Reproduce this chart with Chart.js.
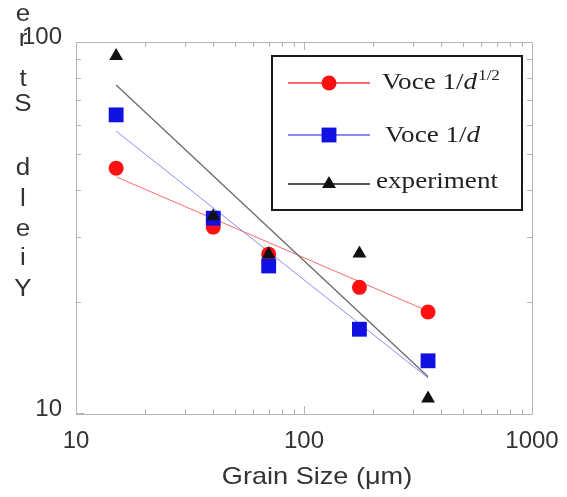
<!DOCTYPE html>
<html>
<head>
<meta charset="utf-8">
<script src="https://cdn.jsdelivr.net/npm/chart.js@4.4.1/dist/chart.umd.min.js"></script>
<style>
html,body{margin:0;padding:0;background:#fff;}
#wrap{width:567px;height:497px;position:relative;}
</style>
</head>
<body>
<div id="wrap"><canvas id="c" width="567" height="497"></canvas></div>
<script>
// ---- data ----
const grainSize = [15, 40, 70, 175, 350];
const voceSqrt = [45.8, 31.8, 26.9, 21.9, 18.8];
const voceInv = [63.7, 33.6, 25.0, 16.9, 13.9];
const experiment = [91.7, 34.0, 26.9, 27.0, 11.0];
const fitX = [15, 350];
const fitSqrt = [43.4, 18.9];
const fitInv = [57.6, 12.5];
const fitExp = [76.6, 12.6];
const xTickLabels = [10, 100, 1000];
const yTickLabels = [10, 100];
const xTitle = 'Grain Size (\u03bcm)';
const yTitleLetters = ['Y','i','e','l','d','S','t','r','e'];
const seriesNames = ['Voce 1/d^1/2', 'Voce 1/d', 'experiment'];

const pts = (xs, ys) => xs.map((x, i) => ({x: x, y: ys[i]}));

const RED = '#ff1010', BLUE = '#1010e0', BLACK = '#111111';
const SANS = '"Liberation Sans", Arial, sans-serif';
const SERIF = '"Liberation Serif", "Times New Roman", serif';
const STRETCH = 1.13;

const datasets = [
  {label: seriesNames[0], data: pts(grainSize, voceSqrt), pointStyle: 'circle', pointRadius: 7.5,
   backgroundColor: RED, borderColor: RED, borderWidth: 0, showLine: false, order: 2},
  {label: seriesNames[1], data: pts(grainSize, voceInv), pointStyle: 'rect', pointRadius: 10.5,
   backgroundColor: BLUE, borderColor: BLUE, borderWidth: 0, showLine: false, order: 1},
  {label: seriesNames[2], data: pts(grainSize, experiment), pointStyle: 'triangle', pointRadius: 8,
   backgroundColor: BLACK, borderColor: BLACK, borderWidth: 0, showLine: false, order: 0},
  {label: 'fitSqrt', data: pts(fitX, fitSqrt), showLine: true, pointRadius: 0, borderColor: '#ff6a6a', borderWidth: 1, order: 5},
  {label: 'fitInv', data: pts(fitX, fitInv), showLine: true, pointRadius: 0, borderColor: '#8c8cff', borderWidth: 1, order: 4},
  {label: 'fitExp', data: pts(fitX, fitExp), showLine: true, pointRadius: 0, borderColor: '#6e6e6e', borderWidth: 1.4, order: 3}
];

const decadeMinors = (lo, hi) => {
  const out = [];
  for (let d = lo; d < hi; d *= 10) for (let k = 2; k <= 9; k++) out.push(d * k);
  return out;
};

function stretchText(ctx, t, x, y, align) {
  const w = ctx.measureText(t).width * STRETCH;
  let x0 = x;
  if (align === 'center') x0 = x - w / 2;
  ctx.save();
  ctx.translate(x0, y);
  ctx.scale(STRETCH, 1);
  ctx.textAlign = 'left';
  ctx.fillText(t, 0, 0);
  ctx.restore();
  return w;
}

const framePlugin = {
  id: 'frame',
  afterDraw(chart) {
    const ctx = chart.ctx, a = chart.chartArea;
    const xs = chart.scales.x, ys = chart.scales.y;
    ctx.save();
    ctx.strokeStyle = '#b4b4b4';
    ctx.lineWidth = 1;
    ctx.beginPath();
    ctx.rect(Math.round(a.left) + 0.5, Math.round(a.top) + 0.5, Math.round(a.right - a.left), Math.round(a.bottom - a.top));
    ctx.stroke();
    // inward ticks
    ctx.beginPath();
    decadeMinors(10, 1000).forEach(v => {
      const px = Math.round(xs.getPixelForValue(v)) + 0.5;
      ctx.moveTo(px, a.bottom); ctx.lineTo(px, a.bottom - 5);
      ctx.moveTo(px, a.top); ctx.lineTo(px, a.top + 5);
    });
    decadeMinors(10, 100).forEach(v => {
      const py = Math.round(ys.getPixelForValue(v)) + 0.5;
      ctx.moveTo(a.left, py); ctx.lineTo(a.left + 5, py);
      ctx.moveTo(a.right, py); ctx.lineTo(a.right - 5, py);
    });
    [100].forEach(v => {
      const px = Math.round(xs.getPixelForValue(v)) + 0.5;
      ctx.moveTo(px, a.bottom); ctx.lineTo(px, a.bottom - 8);
      ctx.moveTo(px, a.top); ctx.lineTo(px, a.top + 8);
    });
    ctx.moveTo(a.left, a.bottom - 0.5); ctx.lineTo(a.left + 8, a.bottom - 0.5);
    ctx.stroke();

    // axis titles
    ctx.fillStyle = '#333';
    ctx.font = '24px ' + SANS;
    ctx.textBaseline = 'middle';
    stretchText(ctx, xTitle, 317, 477, 'center');
    ctx.font = '23px ' + SANS;
    const letterY = [290, 259, 230, 200, 169, 105, 80, 40, 15];
    yTitleLetters.forEach((ch, i) => stretchText(ctx, ch, 23, letterY[i], 'center'));

    // legend box
    ctx.strokeStyle = '#1a1a1a';
    ctx.lineWidth = 2;
    ctx.strokeRect(272, 56, 250, 154);
    const rowsY = [83, 135, 184];
    const lineCols = ['#ff6a6a', '#8c8cff', '#555555'];
    rowsY.forEach((y, i) => {
      const ds = chart.data.datasets[i];
      ctx.strokeStyle = lineCols[i];
      ctx.lineWidth = 2;
      ctx.beginPath(); ctx.moveTo(288, y); ctx.lineTo(370, y); ctx.stroke();
      ctx.fillStyle = ds.backgroundColor;
      ctx.strokeStyle = ds.backgroundColor;
      Chart.helpers.drawPoint(ctx, {pointStyle: ds.pointStyle, radius: ds.pointRadius, rotation: 0, borderWidth: 0}, 329, y);
    });
    ctx.fillStyle = '#222';
    ctx.textBaseline = 'middle';
    const drawParts = (parts, x, y) => {
      parts.forEach(p => {
        ctx.font = p.f;
        x += stretchText(ctx, p.t, x, y + (p.dy || 0), 'left') + (p.gap || 0);
      });
    };
    const nameParts = s => {
      if (s.indexOf('^') >= 0) {
        const [base, sup] = s.split('^');
        const main = base.slice(0, -1);
        return [{t: main, f: '24px ' + SERIF}, {t: base.slice(-1), f: 'italic 24px ' + SERIF, gap: 1},
                {t: sup, f: '15px ' + SERIF, dy: -7}];
      }
      if (s.endsWith('/d')) {
        return [{t: s.slice(0, -1), f: '24px ' + SERIF}, {t: 'd', f: 'italic 24px ' + SERIF}];
      }
      return [{t: s, f: '24px ' + SERIF}];
    };
    drawParts(nameParts(seriesNames[0]), 382, rowsY[0]);
    drawParts(nameParts(seriesNames[1]), 385, rowsY[1] + 1);
    drawParts(nameParts(seriesNames[2]), 376, rowsY[2] - 2);
    ctx.restore();
  }
};

new Chart(document.getElementById('c'), {
  type: 'scatter',
  data: {datasets: datasets},
  options: {
    responsive: false,
    animation: false,
    layout: {padding: {left: 0, top: 42, right: 35, bottom: 0}},
    plugins: {legend: {display: false}, tooltip: {enabled: false}},
    scales: {
      x: {
        type: 'logarithmic', min: 10, max: 1000,
        grid: {display: false, drawTicks: false},
        border: {display: false},
        afterBuildTicks: s => { s.ticks = xTickLabels.map(v => ({value: v})); },
        afterFit: s => { s.height = 83; s.paddingRight = 0; s.paddingLeft = 0; },
        ticks: {
          autoSkip: false, maxRotation: 0, padding: 13,
          color: '#333', font: {family: SANS, size: 24},
          callback: v => String(v)
        }
      },
      y: {
        type: 'logarithmic', min: 10, max: 100,
        grid: {display: false, drawTicks: false},
        border: {display: false},
        afterBuildTicks: s => { s.ticks = yTickLabels.map(v => ({value: v})); },
        afterFit: s => { s.width = 76; },
        ticks: {
          autoSkip: false, padding: 14, labelOffset: -5,
          color: '#333', font: {family: SANS, size: 24},
          callback: v => String(v)
        }
      }
    }
  },
  plugins: [framePlugin]
});
</script>
</body>
</html>
